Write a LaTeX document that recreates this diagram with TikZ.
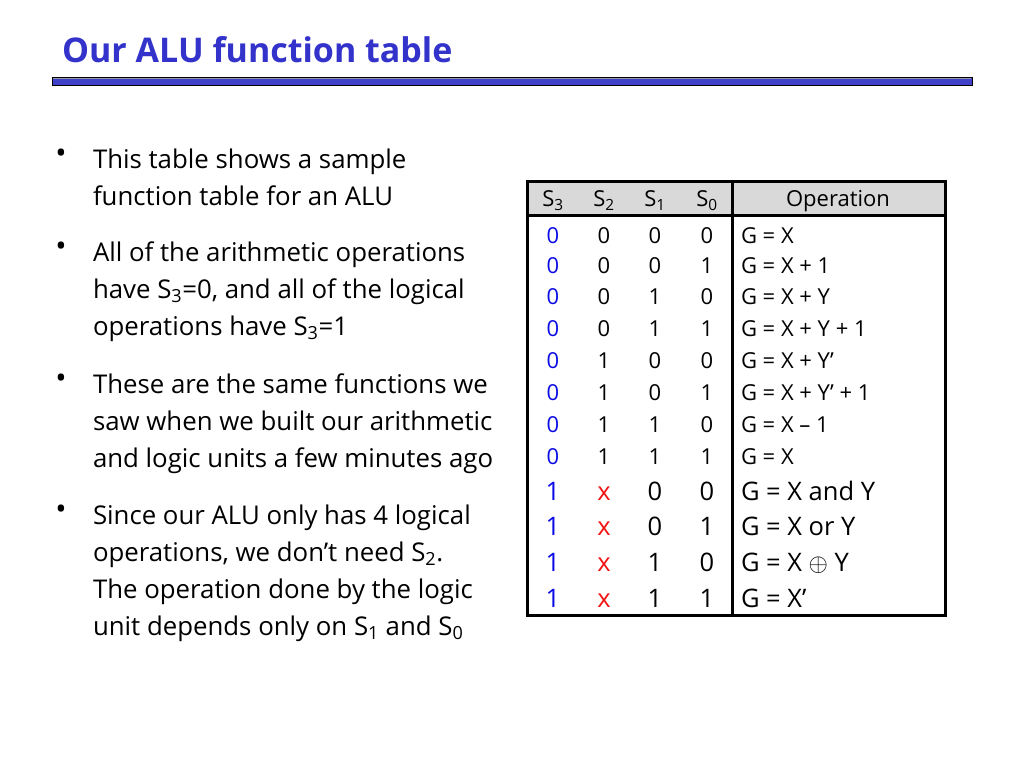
\documentclass[tikz,border=0pt]{standalone}
\usepackage{fontspec}
\setmainfont{Open Sans}
\definecolor{titleblue}{RGB}{51,51,204}
\definecolor{barblue}{RGB}{64,64,200}
\definecolor{bargray}{RGB}{150,150,170}
\definecolor{headgray}{RGB}{217,217,217}
\definecolor{digblue}{RGB}{10,10,230}
\definecolor{xred}{RGB}{240,20,20}
\tikzset{
  bodytext/.style={anchor=base west, font=\fontsize{25.8}{30}\selectfont},
  bulletmark/.style={anchor=center, font=\fontsize{30}{34}\selectfont},
  smallcell/.style={text height=15.8pt, text depth=0pt, anchor=center, font=\fontsize{22}{26}\selectfont},
  bigcell/.style={text height=18.4pt, text depth=0pt, anchor=center, font=\fontsize{25.5}{29}\selectfont},
  smallop/.style={text height=15.8pt, text depth=0pt, anchor=west, font=\fontsize{22}{26}\selectfont},
  bigop/.style={text height=18.4pt, text depth=0pt, anchor=west, font=\fontsize{25.5}{29}\selectfont},
  tableline/.style={line width=3pt, black},
}
\begin{document}
\begin{tikzpicture}[x=1pt,y=-1pt, every node/.style={inner sep=0pt, outer sep=0pt}]
\useasboundingbox (0,0) rectangle (1024,768);
\fill[white] (0,0) rectangle (1024,768);
% title
\node[anchor=base west, font=\bfseries\fontsize{34}{40}\selectfont, text=titleblue] (title) at (62,63) {Our ALU function table};
\draw[black, line width=1pt, fill=barblue] (52,77) rectangle (972,85);
\draw[bargray, line width=1.5pt] (53,78.6) -- (971,78.6);
% bullets
\node[bulletmark] (b1) at (61,156) {•};
\node[bodytext] (t1a) at (93,168) {This table shows a sample};
\node[bodytext] (t1b) at (93,205) {function table for an ALU};
\node[bulletmark] (b2) at (61,249) {•};
\node[bodytext] (t2a) at (93,261) {All of the arithmetic operations};
\node[bodytext] (t2b) at (93,298) {have S\textsubscript{3}=0, and all of the logical};
\node[bodytext] (t2c) at (93,335) {operations have S\textsubscript{3}=1};
\node[bulletmark] (b3) at (61,381) {•};
\node[bodytext] (t3a) at (93,393) {These are the same functions we};
\node[bodytext] (t3b) at (93,430) {saw when we built our arithmetic};
\node[bodytext] (t3c) at (93,467) {and logic units a few minutes ago};
\node[bulletmark] (b4) at (61,512) {•};
\node[bodytext] (t4a) at (93,524) {Since our ALU only has 4 logical};
\node[bodytext] (t4b) at (93,561) {operations, we don’t need S\textsubscript{2}.};
\node[bodytext] (t4c) at (93,598) {The operation done by the logic};
\node[bodytext] (t4d) at (93,635) {unit depends only on S\textsubscript{1} and S\textsubscript{0}};
% table
\fill[headgray] (527,181) rectangle (945,215);
\node[smallcell] (h3) at (553,199) {S\textsubscript{3}};
\node[smallcell] (h2) at (604,199) {S\textsubscript{2}};
\node[smallcell] (h1) at (655,199) {S\textsubscript{1}};
\node[smallcell] (h0) at (707,199) {S\textsubscript{0}};
\node[smallcell] (hop) at (838,199) {Operation};
\foreach \i/\yy/\a/\b/\c/\op in {
  0/236/0/0/0/{G = X},
  1/266/0/0/1/{G = X + 1},
  2/297/0/1/0/{G = X + Y},
  3/329/0/1/1/{G = X + Y + 1},
  4/361/1/0/0/{G = X + Y’},
  5/393/1/0/1/{G = X + Y’ + 1},
  6/425/1/1/0/{G = X – 1},
  7/457/1/1/1/{G = X}}{
  \node[smallcell, text=digblue] (s3-\i) at (553,\yy) {0};
  \node[smallcell] (s2-\i) at (604,\yy) {\a};
  \node[smallcell] (s1-\i) at (655,\yy) {\b};
  \node[smallcell] (s0-\i) at (707,\yy) {\c};
  \node[smallop] (op-\i) at (741,\yy) {\op};
}
\foreach \i/\yy/\b/\c/\op in {
  8/491/0/0/{G = X and Y},
  9/526/0/1/{G = X or Y},
  10/562/1/0/{G = X $\oplus$ Y},
  11/598/1/1/{G = X’}}{
  \node[bigcell, text=digblue] (s3-\i) at (553,\yy) {1};
  \node[bigcell, text=xred] (s2-\i) at (604,\yy) {x};
  \node[bigcell] (s1-\i) at (655,\yy) {\b};
  \node[bigcell] (s0-\i) at (707,\yy) {\c};
  \node[bigop] (op-\i) at (741,\yy) {\op};
}
\draw[tableline] (527,215) -- (945,215);
\draw[tableline] (732,181) -- (732,615);
\draw[tableline] (527,181) rectangle (945,615);
\end{tikzpicture}
\end{document}
